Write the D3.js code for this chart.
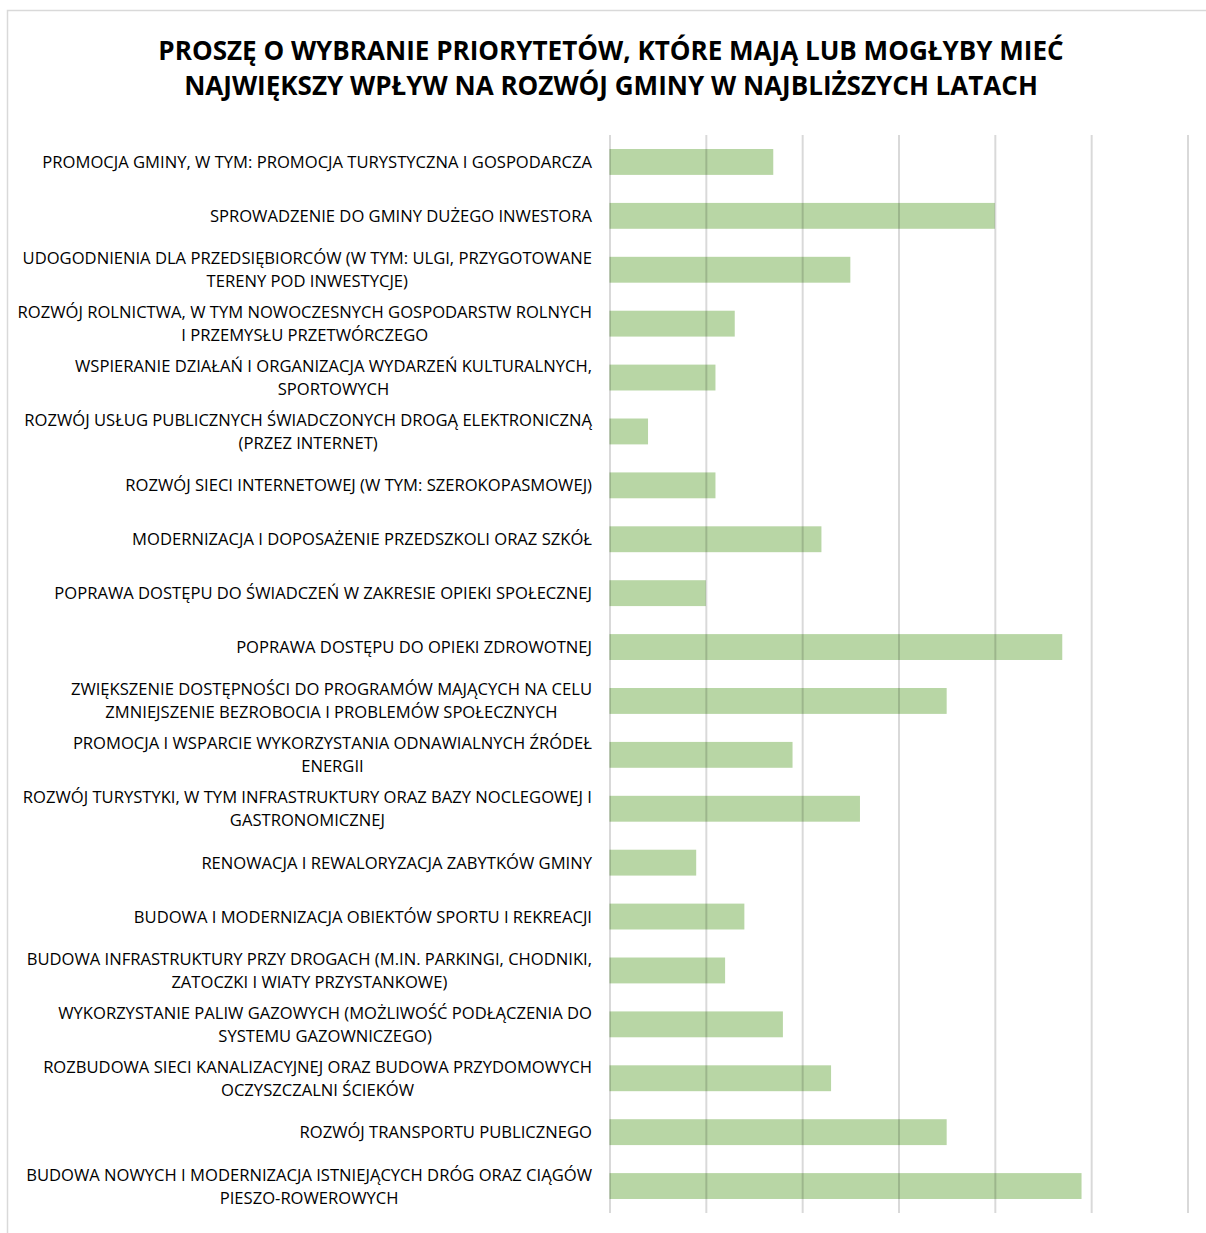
<!DOCTYPE html>
<html><head><meta charset="utf-8">
<script src="https://cdn.jsdelivr.net/npm/d3@7"></script>
<style>html,body{margin:0;padding:0;background:#fff;} svg{display:block;}</style>
</head><body>
<svg id="chart" width="1206" height="1233"></svg>
<script>
const titleLines = [
  "PROSZĘ O WYBRANIE PRIORYTETÓW, KTÓRE MAJĄ LUB MOGŁYBY MIEĆ",
  "NAJWIĘKSZY WPŁYW NA ROZWÓJ GMINY W NAJBLIŻSZYCH LATACH"
];
const categories = [
  "PROMOCJA GMINY, W TYM: PROMOCJA TURYSTYCZNA I GOSPODARCZA",
  "SPROWADZENIE DO GMINY DUŻEGO INWESTORA",
  "UDOGODNIENIA DLA PRZEDSIĘBIORCÓW (W TYM: ULGI, PRZYGOTOWANE\nTERENY POD INWESTYCJE)",
  "ROZWÓJ ROLNICTWA, W TYM NOWOCZESNYCH GOSPODARSTW ROLNYCH\nI PRZEMYSŁU PRZETWÓRCZEGO",
  "WSPIERANIE DZIAŁAŃ I ORGANIZACJA WYDARZEŃ KULTURALNYCH,\nSPORTOWYCH",
  "ROZWÓJ USŁUG PUBLICZNYCH ŚWIADCZONYCH DROGĄ ELEKTRONICZNĄ\n(PRZEZ INTERNET)",
  "ROZWÓJ SIECI INTERNETOWEJ (W TYM: SZEROKOPASMOWEJ)",
  "MODERNIZACJA I DOPOSAŻENIE PRZEDSZKOLI ORAZ SZKÓŁ",
  "POPRAWA DOSTĘPU DO ŚWIADCZEŃ W ZAKRESIE OPIEKI SPOŁECZNEJ",
  "POPRAWA DOSTĘPU DO OPIEKI ZDROWOTNEJ",
  "ZWIĘKSZENIE DOSTĘPNOŚCI DO PROGRAMÓW MAJĄCYCH NA CELU\nZMNIEJSZENIE BEZROBOCIA I PROBLEMÓW SPOŁECZNYCH",
  "PROMOCJA I WSPARCIE WYKORZYSTANIA ODNAWIALNYCH ŹRÓDEŁ\nENERGII",
  "ROZWÓJ TURYSTYKI, W TYM INFRASTRUKTURY ORAZ BAZY NOCLEGOWEJ I\nGASTRONOMICZNEJ",
  "RENOWACJA I REWALORYZACJA ZABYTKÓW GMINY",
  "BUDOWA I MODERNIZACJA OBIEKTÓW SPORTU I REKREACJI",
  "BUDOWA INFRASTRUKTURY PRZY DROGACH (M.IN. PARKINGI, CHODNIKI,\nZATOCZKI I WIATY PRZYSTANKOWE)",
  "WYKORZYSTANIE PALIW GAZOWYCH (MOŻLIWOŚĆ PODŁĄCZENIA DO\nSYSTEMU GAZOWNICZEGO)",
  "ROZBUDOWA SIECI KANALIZACYJNEJ ORAZ BUDOWA PRZYDOMOWYCH\nOCZYSZCZALNI ŚCIEKÓW",
  "ROZWÓJ TRANSPORTU PUBLICZNEGO",
  "BUDOWA NOWYCH I MODERNIZACJA ISTNIEJĄCYCH DRÓG ORAZ CIĄGÓW\nPIESZO-ROWEROWYCH"
];
const values = [1.7, 4.0, 2.5, 1.3, 1.1, 0.4, 1.1, 2.2, 1.0, 4.7, 3.5, 1.9, 2.6, 0.9, 1.4, 1.2, 1.8, 2.3, 3.5, 4.9];
const xTicks = [0, 1, 2, 3, 4, 5, 6];

const svg = d3.select("#chart");
const FONT = "'Open Sans', Lato, sans-serif";

// helper: pick a font size so a reference string spans a target width
function fitSize(str, target, weight) {
  const t = svg.append("text").attr("font-family", FONT).attr("font-weight", weight)
    .attr("font-size", 20).text(str);
  const w = t.node().getComputedTextLength();
  t.remove();
  return 20 * target / w;
}

// outer border
svg.append("rect").attr("x", 7.5).attr("y", 10.5).attr("width", 1210).attr("height", 1240)
  .attr("fill", "#fff").attr("stroke", "#d9d9d9").attr("stroke-width", 1.5);

// title
const titleSize = fitSize(titleLines[0], 906, "bold");
svg.append("text").attr("x", 611).attr("y", 60).attr("text-anchor", "middle")
  .attr("font-family", FONT).attr("font-weight", "bold").attr("font-size", titleSize).attr("fill", "#000")
  .selectAll("tspan").data(titleLines).join("tspan")
  .attr("x", 611).attr("dy", (d, i) => i === 0 ? 0 : 35).text(d => d);

const x = d3.scaleLinear().domain([0, 6]).range([609.5, 1187.5]);
const y = d3.scaleBand().domain(categories).range([135, 1213]).paddingInner(0.52).paddingOuter(0.26);

// bars
svg.append("g").selectAll("rect").data(values).join("rect")
  .attr("x", x(0)).attr("y", (d, i) => y(categories[i]))
  .attr("width", d => x(d) - x(0)).attr("height", y.bandwidth())
  .attr("fill", "#b8d6a5");

// gridlines (over bars, translucent)
const xAxis = d3.axisBottom(x).tickValues(xTicks).tickSize(-(1213 - 135)).tickFormat("");
const gx = svg.append("g").attr("transform", "translate(0,1213)").call(xAxis);
gx.select(".domain").remove();
gx.selectAll(".tick line").attr("stroke", "#000").attr("stroke-opacity", 0.15).attr("stroke-width", 2);

// labels
const labelSize = fitSize(categories[0], 550, "normal");
const labelRight = 592;
const lg = svg.append("g").attr("font-family", FONT).attr("font-size", labelSize).attr("fill", "#000");
categories.forEach((c, i) => {
  const lines = c.split("\n");
  const cy = y(c) + y.bandwidth() / 2;
  const lh = 23;
  const t = lg.append("text").attr("text-anchor", "middle");
  const tsp = t.selectAll("tspan").data(lines).join("tspan")
    .attr("y", (d, j) => cy + (j - (lines.length - 1) / 2) * lh + 6)
    .text(d => d);
  let maxW = 0;
  tsp.each(function () { maxW = Math.max(maxW, this.getComputedTextLength()); });
  tsp.attr("x", labelRight - maxW / 2);
});
</script>
</body></html>
